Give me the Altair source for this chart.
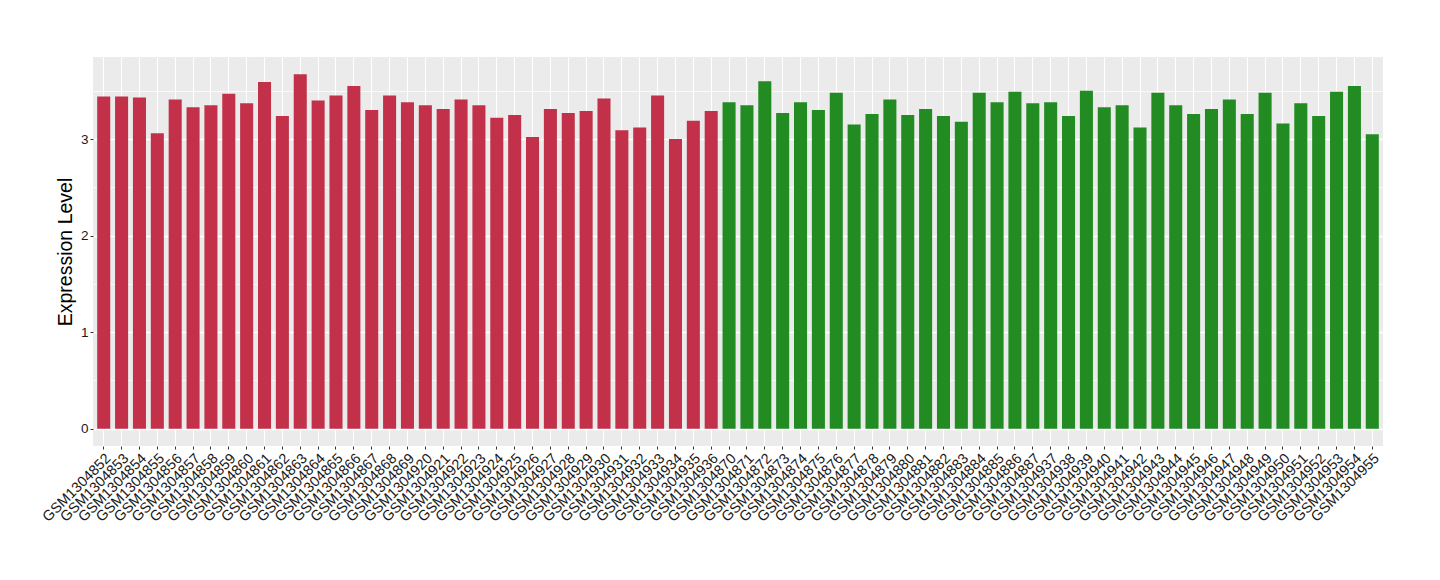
import altair as alt
import pandas as pd

samples = [
    "GSM1304852", "GSM1304853", "GSM1304854", "GSM1304855", "GSM1304856", "GSM1304857",
    "GSM1304858", "GSM1304859", "GSM1304860", "GSM1304861", "GSM1304862", "GSM1304863",
    "GSM1304864", "GSM1304865", "GSM1304866", "GSM1304867", "GSM1304868", "GSM1304869",
    "GSM1304920", "GSM1304921", "GSM1304922", "GSM1304923", "GSM1304924", "GSM1304925",
    "GSM1304926", "GSM1304927", "GSM1304928", "GSM1304929", "GSM1304930", "GSM1304931",
    "GSM1304932", "GSM1304933", "GSM1304934", "GSM1304935", "GSM1304936",
    "GSM1304870", "GSM1304871", "GSM1304872", "GSM1304873", "GSM1304874", "GSM1304875",
    "GSM1304876", "GSM1304877", "GSM1304878", "GSM1304879", "GSM1304880", "GSM1304881",
    "GSM1304882", "GSM1304883", "GSM1304884", "GSM1304885", "GSM1304886", "GSM1304887",
    "GSM1304937", "GSM1304938", "GSM1304939", "GSM1304940", "GSM1304941", "GSM1304942",
    "GSM1304943", "GSM1304944", "GSM1304945", "GSM1304946", "GSM1304947", "GSM1304948",
    "GSM1304949", "GSM1304950", "GSM1304951", "GSM1304952", "GSM1304953", "GSM1304954",
    "GSM1304955",
]

values = [
    3.44, 3.44, 3.43, 3.06, 3.41, 3.33, 3.35, 3.47, 3.37, 3.59, 3.24, 3.67,
    3.40, 3.45, 3.55, 3.30, 3.45, 3.38,
    3.35, 3.31, 3.41, 3.35, 3.22, 3.25, 3.02, 3.31, 3.27, 3.29, 3.42, 3.09,
    3.12, 3.45, 3.00, 3.19, 3.29,
    3.38, 3.35, 3.60, 3.27, 3.38, 3.30, 3.48, 3.15, 3.26, 3.41, 3.25, 3.31,
    3.24, 3.18, 3.48, 3.38, 3.49, 3.37,
    3.38, 3.24, 3.50, 3.33, 3.35, 3.12, 3.48, 3.35, 3.26, 3.31, 3.41, 3.26,
    3.48, 3.16, 3.37, 3.24, 3.49, 3.55, 3.05,
]

groups = ["Group 1"] * 35 + ["Group 2"] * 37
group_names = ["Group 1", "Group 2"]
group_colors = ["#C23149", "#228B22"]

df = pd.DataFrame({"sample": samples, "value": values, "group": groups})

grid_width = {"condition": {"test": "datum.value % 1 !== 0", "value": 0.7}, "value": 1.4}
tick_opacity = {"condition": {"test": "datum.value % 1 !== 0", "value": 0}, "value": 1}

chart = (
    alt.Chart(df)
    .mark_bar()
    .encode(
        x=alt.X(
            "sample:N",
            sort=samples,
            title=None,
            scale=alt.Scale(paddingInner=0.27, paddingOuter=0.235),
            axis=alt.Axis(
                labelAngle=-45,
                labelAlign="right",
                labelBaseline="top",
                labelFont="Liberation Sans",
                labelFontSize=14.5,
                labelColor="#1a1a1a",
                labelPadding=2,
                tickColor="#333333",
                tickSize=3,
                tickWidth=1,
                domain=False,
                grid=True,
                gridColor="#FFFFFF",
                gridWidth=1.1,
                labelOverlap=False,
            ),
        ),
        y=alt.Y(
            "value:Q",
            title="Expression Level",
            scale=alt.Scale(domain=[-0.18, 3.85], nice=False, zero=False),
            axis=alt.Axis(
                values=[0, 0.5, 1, 1.5, 2, 2.5, 3, 3.5],
                labelExpr="datum.value % 1 === 0 ? toString(datum.value) : ''",
                labelFont="Liberation Sans",
                labelFontSize=13.5,
                labelColor="#1a1a1a",
                labelPadding=2,
                tickColor="#333333",
                tickSize=3,
                tickWidth=1,
                tickOpacity=tick_opacity,
                domain=False,
                grid=True,
                gridColor="#FFFFFF",
                gridWidth=grid_width,
                titleFont="Liberation Sans",
                titleFontSize=19.5,
                titleFontWeight="normal",
                titleColor="#000000",
                titlePadding=5,
            ),
        ),
        color=alt.Color(
            "group:N",
            scale=alt.Scale(domain=group_names, range=group_colors),
            legend=None,
        ),
    )
    .properties(
        width=1290,
        height=389,
        autosize="none",
        padding={"left": 85, "top": 49, "right": 49, "bottom": 126},
    )
    .configure(background="#FFFFFF", view=alt.ViewConfig(fill="#EBEBEB", stroke=None))
)

chart.save("out.html", embed_options={"renderer": "svg", "actions": False})
